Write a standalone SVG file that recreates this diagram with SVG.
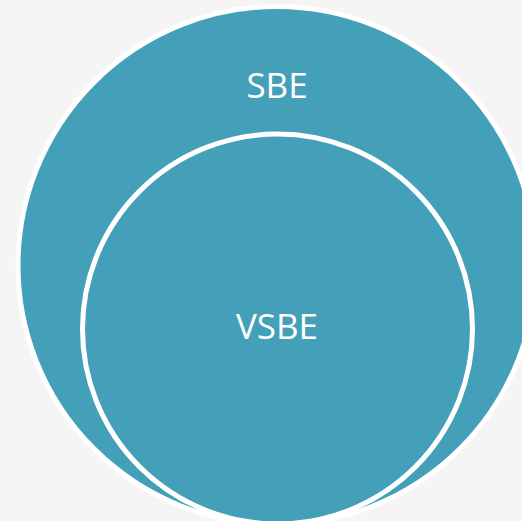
<svg xmlns="http://www.w3.org/2000/svg" width="522" height="521" viewBox="0 0 522 521">
<style>
.c{fill:#449fb9;stroke:#ffffff;stroke-width:5}
.t{font-family:"Open Sans","Noto Sans","DejaVu Sans",sans-serif;font-size:35px;fill:#ffffff;text-anchor:middle}
</style>
<rect width="522" height="521" fill="#f5f5f5"/>
<g id="sbe">
<circle class="c" cx="277" cy="265.5" r="259"/>
<text class="t" x="277" y="98">SBE</text>
</g>
<g id="vsbe">
<circle class="c" cx="277.5" cy="329" r="195"/>
<text class="t" x="277" y="339">VSBE</text>
</g>
<g id="connectors"/>
</svg>
